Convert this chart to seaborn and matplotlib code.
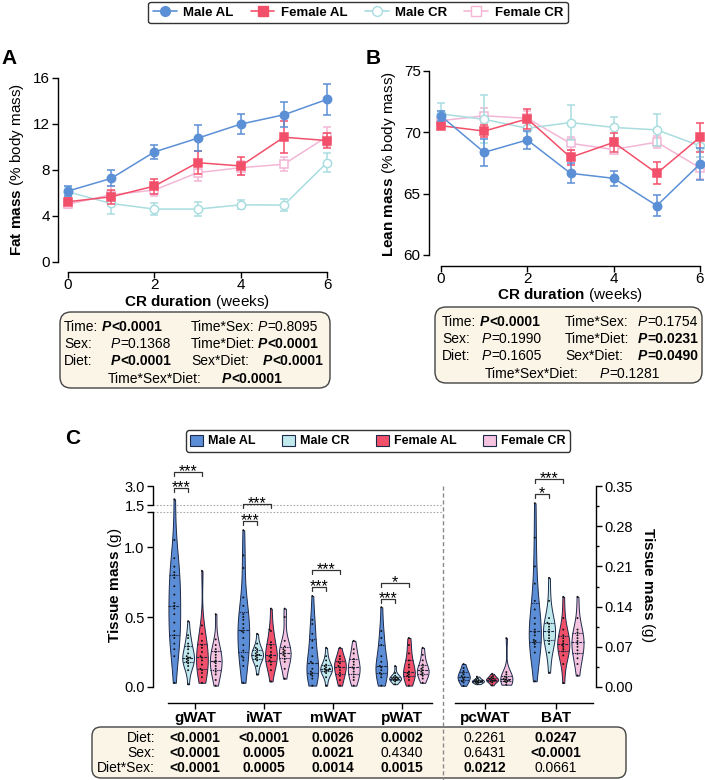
import numpy as np
import pandas as pd
import seaborn as sns
import matplotlib.pyplot as plt
import matplotlib.transforms as mtransforms
from matplotlib.patches import FancyBboxPatch, Patch
from matplotlib.lines import Line2D
from matplotlib.ticker import MultipleLocator, NullLocator

W, H = 705, 780

# ---------------- data: body composition during CR (mean, SEM) ----------------
weeks = [0, 1, 2, 3, 4, 5, 6]
line_groups = ['Male AL', 'Female AL', 'Male CR', 'Female CR']

fat_male_al = [6.17, 7.27, 9.57, 10.76, 11.99, 12.8, 14.14]
fat_male_al_sem = [0.45, 0.7, 0.6, 1.15, 0.85, 1.1, 1.35]
fat_female_al = [5.24, 5.67, 6.6, 8.64, 8.35, 10.85, 10.56]
fat_female_al_sem = [0.3, 0.6, 0.65, 1.0, 0.8, 1.4, 0.65]
fat_male_cr = [6.1, 5.09, 4.6, 4.6, 4.97, 4.95, 8.64]
fat_male_cr_sem = [0.4, 0.95, 0.5, 0.6, 0.4, 0.55, 0.85]
fat_female_cr = [5.03, 5.85, 6.25, 7.77, 8.2, 8.5, 10.9]
fat_female_cr_sem = [0.3, 0.8, 0.5, 0.7, 0.6, 0.6, 0.8]

lean_male_al = [71.33, 68.37, 69.38, 66.66, 66.25, 64.02, 67.42]
lean_male_al_sem = [0.4, 1.1, 0.75, 0.8, 0.6, 0.85, 1.3]
lean_female_al = [70.54, 70.1, 71.1, 67.96, 69.18, 66.66, 69.6]
lean_female_al_sem = [0.25, 0.5, 0.8, 0.6, 0.8, 0.9, 1.2]
lean_male_cr = [71.5, 71.06, 70.33, 70.8, 70.4, 70.2, 68.9]
lean_male_cr_sem = [0.9, 1.95, 0.8, 1.4, 0.85, 1.3, 0.9]
lean_female_cr = [70.95, 71.35, 71.14, 69.1, 68.6, 69.2, 67.1]
lean_female_cr_sem = [0.5, 0.6, 0.6, 0.5, 0.4, 0.5, 0.9]

stat_terms = ['Time:', 'Sex:', 'Diet:', 'Time*Sex:', 'Time*Diet:', 'Sex*Diet:', 'Time*Sex*Diet:']
fat_p = ['<0.0001', '=0.1368', '<0.0001', '=0.8095', '<0.0001', '<0.0001', '<0.0001']
lean_p = ['<0.0001', '=0.1990', '=0.1605', '=0.1754', '=0.0231', '=0.0490', '=0.1281']

# ---------------- data: tissue masses (g) ----------------
tissues_left = ['gWAT', 'iWAT', 'mWAT', 'pWAT']
tissues_right = ['pcWAT', 'BAT']
hue_order = ['Male AL', 'Male CR', 'Female AL', 'Female CR']

gwat = {
    'Male AL': [0.03, 0.22, 0.27, 0.31, 0.35, 0.37, 0.40, 0.46, 0.52, 0.56, 0.58, 0.60,
                0.66, 0.72, 0.78, 0.80, 0.82, 0.86, 0.92, 1.05, 1.95],
    'Male CR': [0.02, 0.12, 0.15, 0.17, 0.18, 0.19, 0.20, 0.21, 0.21, 0.22, 0.24, 0.27,
                0.29, 0.31, 0.35, 0.37, 0.47],
    'Female AL': [0.03, 0.07, 0.10, 0.12, 0.13, 0.16, 0.19, 0.21, 0.22, 0.25, 0.28, 0.30,
                  0.33, 0.38, 0.44, 0.83],
    'Female CR': [0.01, 0.05, 0.09, 0.11, 0.13, 0.15, 0.17, 0.18, 0.19, 0.21, 0.23, 0.25,
                  0.27, 0.30, 0.34, 0.52],
}
iwat = {
    'Male AL': [0.03, 0.15, 0.19, 0.21, 0.22, 0.26, 0.30, 0.35, 0.39, 0.40, 0.42, 0.45,
                0.48, 0.50, 0.52, 0.58, 0.64, 0.85, 0.94, 1.12],
    'Male CR': [0.09, 0.15, 0.19, 0.20, 0.21, 0.22, 0.23, 0.23, 0.24, 0.25, 0.27, 0.28,
                0.31, 0.38],
    'Female AL': [0.04, 0.12, 0.16, 0.18, 0.19, 0.21, 0.22, 0.23, 0.25, 0.28, 0.30, 0.32,
                  0.40, 0.41, 0.56],
    'Female CR': [0.06, 0.13, 0.18, 0.20, 0.22, 0.23, 0.24, 0.25, 0.26, 0.27, 0.29, 0.33,
                  0.50, 0.56],
}
mwat = {
    'Male AL': [0.01, 0.06, 0.08, 0.09, 0.10, 0.11, 0.13, 0.17, 0.18, 0.22, 0.28, 0.33,
                0.38, 0.45, 0.48, 0.65],
    'Male CR': [0.01, 0.07, 0.10, 0.11, 0.12, 0.12, 0.13, 0.13, 0.14, 0.15, 0.16, 0.19,
                0.22, 0.28],
    'Female AL': [0.01, 0.05, 0.08, 0.10, 0.12, 0.14, 0.15, 0.17, 0.18, 0.20, 0.22, 0.28],
    'Female CR': [0.01, 0.05, 0.07, 0.09, 0.11, 0.13, 0.14, 0.16, 0.18, 0.20, 0.24, 0.27,
                  0.33],
}
pwat = {
    'Male AL': [0.01, 0.07, 0.09, 0.10, 0.12, 0.14, 0.15, 0.18, 0.22, 0.30, 0.35, 0.40, 0.57],
    'Male CR': [0.02, 0.04, 0.05, 0.05, 0.06, 0.06, 0.06, 0.07, 0.07, 0.08, 0.10, 0.15],
    'Female AL': [0.01, 0.05, 0.07, 0.08, 0.09, 0.10, 0.11, 0.14, 0.16, 0.19, 0.24, 0.30,
                  0.35],
    'Female CR': [0.03, 0.06, 0.08, 0.09, 0.10, 0.11, 0.12, 0.13, 0.14, 0.16, 0.19, 0.23,
                  0.28],
}
pcwat = {
    'Male AL': [0.002, 0.008, 0.010, 0.013, 0.016, 0.017, 0.019, 0.022, 0.025, 0.028,
                0.033, 0.040],
    'Male CR': [0.005, 0.007, 0.008, 0.009, 0.010, 0.010, 0.011, 0.012, 0.013, 0.015, 0.018],
    'Female AL': [0.003, 0.008, 0.010, 0.011, 0.012, 0.013, 0.014, 0.015, 0.017, 0.019,
                  0.023],
    'Female CR': [0.004, 0.008, 0.010, 0.011, 0.012, 0.013, 0.014, 0.016, 0.018, 0.022,
                  0.026, 0.085],
}
bat = {
    'Male AL': [0.01, 0.06, 0.07, 0.075, 0.078, 0.08, 0.082, 0.09, 0.095, 0.10, 0.11, 0.12,
                0.135, 0.15, 0.18, 0.21, 0.26, 0.32],
    'Male CR': [0.025, 0.06, 0.075, 0.08, 0.085, 0.09, 0.095, 0.10, 0.105, 0.11, 0.112,
                0.12, 0.15, 0.19],
    'Female AL': [0.007, 0.04, 0.055, 0.062, 0.066, 0.07, 0.073, 0.076, 0.08, 0.085, 0.09,
                  0.10, 0.12, 0.157],
    'Female CR': [0.02, 0.04, 0.05, 0.058, 0.064, 0.07, 0.075, 0.08, 0.085, 0.09, 0.095,
                  0.10, 0.12, 0.157],
}

p_diet = ['<0.0001', '<0.0001', '0.0026', '0.0002', '0.2261', '0.0247']
p_sex = ['<0.0001', '0.0005', '0.0021', '0.4340', '0.6431', '<0.0001']
p_dietsex = ['<0.0001', '0.0005', '0.0014', '0.0015', '0.0212', '0.0661']

# ---------------- style ----------------
blue, red, cyan, pink = '#5b8fd6', '#f2506a', '#a9dde0', '#f3b6d6'
vio_colors = {'Male AL': '#5b8ed6', 'Male CR': '#bfe9ec', 'Female AL': '#f0506a',
              'Female CR': '#f4c3e0'}
edge = '#1e2a4a'
cream = '#fbf5e8'

sns.set_style('ticks')
plt.rcParams['font.family'] = ['Liberation Sans', 'DejaVu Sans']
plt.rcParams.update({
    'mathtext.fontset': 'custom',
    'mathtext.rm': 'Liberation Sans',
    'mathtext.bf': 'Liberation Sans:bold',
    'mathtext.it': 'Liberation Sans:italic',
    'axes.edgecolor': 'black', 'axes.linewidth': 1.0,
    'xtick.color': 'black', 'ytick.color': 'black',
    'text.color': 'black', 'axes.labelcolor': 'black',
    'xtick.major.size': 4, 'ytick.major.size': 4,
    'xtick.major.width': 1.0, 'ytick.major.width': 1.0,
    'xtick.major.pad': 2, 'ytick.major.pad': 2,
})

fig = plt.figure(figsize=(W / 100, H / 100), dpi=100)


def box(x0, y0, x1, y1):
    # figure-fraction rect from pixel corners (top-left origin)
    return [x0 / W, 1 - y1 / H, (x1 - x0) / W, (y1 - y0) / H]


# overlay axes in pixel units for texts / boxes
ov = fig.add_axes([0, 0, 1, 1], zorder=5)
ov.set_xlim(0, W)
ov.set_ylim(H, 0)
ov.axis('off')


def rich(x, y, parts, size=10):
    t = ov.text(x, y, parts[0][0], fontsize=size, fontweight=parts[0][1],
                style=parts[0][2], va='baseline', ha='left', zorder=4)
    for s, w, st in parts[1:]:
        t = ov.annotate(s, xy=(1, 0), xycoords=t, va='bottom', ha='left',
                        fontsize=size, fontweight=w, style=st, zorder=4)


def pval_parts(v):
    sig = v.startswith('<') or float(v[1:]) < 0.05
    w = 'bold' if sig else 'normal'
    return [('P', w, 'italic'), (v, w, 'normal')]


# ---------------- panels A and B ----------------
specs = {
    'Male AL': dict(color=blue, marker='o', mfc=blue, z=5),
    'Female AL': dict(color=red, marker='s', mfc=red, z=4),
    'Male CR': dict(color=cyan, marker='o', mfc='white', z=3),
    'Female CR': dict(color=pink, marker='s', mfc='white', z=2),
}


def draw_time(ax, means, sems):
    for g in line_groups:
        sp = specs[g]
        ax.errorbar(weeks, means[g], yerr=sems[g], fmt='none', ecolor=sp['color'],
                    elinewidth=1.1, capsize=3.2, capthick=1.1, zorder=sp['z'] - 0.5,
                    clip_on=False)
        sns.lineplot(x=weeks, y=means[g], ax=ax, color=sp['color'], lw=1.1,
                     marker=sp['marker'], markersize=6, markerfacecolor=sp['mfc'],
                     markeredgecolor=sp['color'], markeredgewidth=1.1,
                     zorder=sp['z'], clip_on=False, errorbar=None, legend=False)


axA = fig.add_axes(box(58, 78, 327, 262))
draw_time(axA,
          {'Male AL': fat_male_al, 'Female AL': fat_female_al,
           'Male CR': fat_male_cr, 'Female CR': fat_female_cr},
          {'Male AL': fat_male_al_sem, 'Female AL': fat_female_al_sem,
           'Male CR': fat_male_cr_sem, 'Female CR': fat_female_cr_sem})
axA.set_xlim(-0.232, 6)
axA.set_ylim(0, 16)
axA.set_xticks([0, 2, 4, 6])
axA.set_yticks([0, 4, 8, 12, 16])

axB = fig.add_axes(box(429, 71, 700, 255))
draw_time(axB,
          {'Male AL': lean_male_al, 'Female AL': lean_female_al,
           'Male CR': lean_male_cr, 'Female CR': lean_female_cr},
          {'Male AL': lean_male_al_sem, 'Female AL': lean_female_al_sem,
           'Male CR': lean_male_cr_sem, 'Female CR': lean_female_cr_sem})
axB.set_xlim(-0.278, 6)
axB.set_ylim(60, 75)
axB.set_xticks([0, 2, 4, 6])
axB.set_yticks([60, 65, 70, 75])

for ax, off, ylo, yhi in [(axA, 7.2, 0, 16), (axB, 7.9, 60, 75)]:
    sns.despine(ax=ax)
    ax.spines['bottom'].set_position(('outward', off))
    ax.spines['bottom'].set_bounds(0, 6)
    ax.spines['left'].set_bounds(ylo, yhi)
    ax.tick_params(labelsize=11)
    ax.tick_params(axis='x', pad=0.5)
    ax.set_xlabel('')
    ax.set_ylabel('')

ov.text(17, 169, r'$\mathbf{Fat\ mass}$ (% body mass)', rotation=90, ha='center',
        va='center', fontsize=11)
ov.text(389, 164, r'$\mathbf{Lean\ mass}$ (% body mass)', rotation=90, ha='center',
        va='center', fontsize=11)
ov.text(197, 302, r'$\mathbf{CR\ duration}$ (weeks)', ha='center', va='center',
        fontsize=11)
ov.text(570, 295, r'$\mathbf{CR\ duration}$ (weeks)', ha='center', va='center',
        fontsize=11)

for lab, x, y in [('A', 9, 59), ('B', 373, 59), ('C', 73, 438)]:
    ov.text(x, y, lab, fontsize=15, fontweight='bold', ha='center', va='center')

# stats boxes
ov.add_patch(FancyBboxPatch((60, 312), 270, 76, boxstyle='round,pad=0,rounding_size=11',
                            fc=cream, ec='#444444', lw=1.0, zorder=1))
ov.add_patch(FancyBboxPatch((435, 307), 267, 76, boxstyle='round,pad=0,rounding_size=11',
                            fc=cream, ec='#444444', lw=1.0, zorder=1))

layout_A = [(64, 102, 331), (64, 111, 348), (64, 111, 365), (191, 258, 331),
            (191, 258, 348), (191, 263, 365), (108, 222, 383)]
layout_B = [(442, 480, 326), (442, 482, 343), (442, 482, 360), (565, 638, 326),
            (565, 638, 343), (565, 638, 360), (485, 600, 378)]
for pvals, lay in [(fat_p, layout_A), (lean_p, layout_B)]:
    for term, v, (xl, xv, yb) in zip(stat_terms, pvals, lay):
        ov.text(xl, yb, term, fontsize=10, va='baseline', ha='left', zorder=4)
        rich(xv, yb, pval_parts(v))

# top legend
top_handles = [Line2D([], [], color=specs[g]['color'], marker=specs[g]['marker'],
                      markerfacecolor=specs[g]['mfc'], markeredgecolor=specs[g]['color'],
                      markersize=7, lw=1.2) for g in line_groups]
leg1 = fig.legend(top_handles, line_groups, loc='center', ncol=4,
                  bbox_to_anchor=(358 / W, 1 - 12.5 / H), frameon=True, fancybox=True,
                  prop=dict(weight='bold', size=9.5), handlelength=1.8,
                  handletextpad=0.5, columnspacing=1.3, borderpad=0.35)
leg1.get_frame().set_edgecolor('black')
leg1.get_frame().set_linewidth(1.0)

# ---------------- panel C ----------------
def to_long(tissue_data):
    rows = []
    for tissue, d in tissue_data:
        for g in hue_order:
            for v in d[g]:
                rows.append((tissue, g, v))
    return pd.DataFrame(rows, columns=['tissue', 'group', 'mass'])


dfL = to_long([('gWAT', gwat), ('iWAT', iwat), ('mWAT', mwat), ('pWAT', pwat)])
dfR = to_long([('pcWAT', pcwat), ('BAT', bat)])


def fwd(y):
    y = np.asarray(y, float)
    return np.where(y <= 1.25, y,
                    np.where(y <= 1.5, 1.25 + (y - 1.25) * 0.2, 1.3 + (y - 1.5) * 0.0907))


def inv(z):
    z = np.asarray(z, float)
    return np.where(z <= 1.25, z,
                    np.where(z <= 1.3, 1.25 + (z - 1.25) / 0.2, 1.5 + (z - 1.3) / 0.0907))


axL = fig.add_axes(box(153, 486, 443, 687))
axL.set_yscale('function', functions=(fwd, inv))
axL.set_ylim(0, 3.0)
axR = fig.add_axes(box(443, 486, 596, 687))
axR.set_ylim(0, 0.35)

for ax, df, order in [(axL, dfL, tissues_left), (axR, dfR, tissues_right)]:
    sns.violinplot(data=df, x='tissue', y='mass', hue='group', order=order,
                   hue_order=hue_order, palette=vio_colors, saturation=1, cut=0,
                   inner='quart', density_norm='width', width=0.8, gap=0.15,
                   linewidth=0.7, linecolor=edge,
                   inner_kws=dict(color=edge, linewidth=0.8), legend=False, ax=ax)
    sns.swarmplot(data=df, x='tissue', y='mass', hue='group', order=order,
                  hue_order=hue_order, palette={g: '#111111' for g in hue_order},
                  dodge=True, size=1.4, legend=False, ax=ax)
    ax.set_xlabel('')
    ax.set_ylabel('')
    ax.spines['top'].set_visible(False)
    ax.spines['bottom'].set_position(('outward', 11.5))
    ax.tick_params(axis='x', labelsize=11)
    for lab in ax.get_xticklabels():
        lab.set_fontweight('bold')

axL.set_xlim(-0.609, 3.594)
axL.set_ylim(0, 3.0)
axL.spines['right'].set_visible(False)
axL.spines['bottom'].set_bounds(-0.39, 3.43)
axL.spines['left'].set_bounds(0, 1.25)
axL.set_yticks([0, 0.5, 1.0, 1.25, 1.5, 3.0])
axL.set_yticklabels(['0.0', '0.5', '1.0', '', '1.5', '3.0'])
axL.yaxis.set_minor_locator(NullLocator())
axL.tick_params(axis='y', labelsize=10.5)
axL.plot([0, 0], [1.5, 3.0], color='black', lw=1.0, clip_on=False,
         transform=mtransforms.blended_transform_factory(axL.transAxes, axL.transData))
for yb in [1.25, 1.5]:
    axL.axhline(yb, color='#aaaaaa', lw=0.8, ls=(0, (1.5, 1.5)), zorder=0)

axR.set_xlim(-0.59, 1.56)
axR.set_ylim(0, 0.35)
axR.spines['left'].set_visible(False)
axR.spines['bottom'].set_bounds(-0.42, 1.52)
axR.yaxis.tick_right()
axR.set_yticks([0, 0.07, 0.14, 0.21, 0.28, 0.35])
axR.set_yticklabels(['0.00', '0.07', '0.14', '0.21', '0.28', '0.35'])
axR.yaxis.set_minor_locator(MultipleLocator(0.035))
axR.tick_params(axis='y', which='minor', length=2.5, width=1.0)
axR.tick_params(axis='y', labelsize=10.5)

ov.text(115, 585, r'$\mathbf{Tissue\ mass}$ (g)', rotation=90, ha='center',
        va='center', fontsize=11)
ov.text(648, 585, r'$\mathbf{Tissue\ mass}$ (g)', rotation=270, ha='center',
        va='center', fontsize=11)

# separator
ov.plot([443, 443], [486, 780], color='#8a8a8a', lw=1.0, ls=(0, (3, 2)), zorder=2)

# significance brackets
hue_off = dict(zip(hue_order, [-0.3, -0.1, 0.1, 0.3]))


def bracket(ax, idx, g0, g1, y_line, label):
    tr = mtransforms.blended_transform_factory(ax.transData, ov.transData)
    x0, x1 = idx + hue_off[g0], idx + hue_off[g1]
    ov.plot([x0, x0, x1, x1], [y_line + 4, y_line, y_line, y_line + 4], color='#333333',
            lw=0.9, transform=tr, clip_on=False, zorder=3)
    ov.text((x0 + x1) / 2, y_line + 4, label, transform=tr, ha='center', va='baseline',
            fontsize=11.5, zorder=3)


bracket(axL, 0, 'Male AL', 'Female AL', 472, '***')
bracket(axL, 0, 'Male AL', 'Male CR', 488, '***')
bracket(axL, 1, 'Male AL', 'Female AL', 504, '***')
bracket(axL, 1, 'Male AL', 'Male CR', 521, '***')
bracket(axL, 2, 'Male AL', 'Female AL', 570, '***')
bracket(axL, 2, 'Male AL', 'Male CR', 587, '***')
bracket(axL, 3, 'Male AL', 'Female AL', 583, '*')
bracket(axL, 3, 'Male AL', 'Male CR', 599, '***')
bracket(axR, 1, 'Male AL', 'Female AL', 479, '***')
bracket(axR, 1, 'Male AL', 'Male CR', 494, '*')

# C legend
c_handles = [Patch(facecolor=vio_colors[g], edgecolor=edge, lw=0.8) for g in hue_order]
leg2 = fig.legend(c_handles, hue_order, loc='center', ncol=4,
                  bbox_to_anchor=(378 / W, 1 - 441 / H), frameon=True, fancybox=True,
                  prop=dict(weight='bold', size=9), handlelength=1.0, handleheight=1.0,
                  handletextpad=0.45, columnspacing=2.1, borderpad=0.35)
leg2.get_frame().set_edgecolor('black')
leg2.get_frame().set_linewidth(1.0)

# bottom stats table
ov.add_patch(FancyBboxPatch((92, 727), 534, 51, boxstyle='round,pad=0,rounding_size=9',
                            fc=cream, ec='#444444', lw=1.0, zorder=1))
for r, (name, vals) in enumerate(zip(['Diet:', 'Sex:', 'Diet*Sex:'],
                                     [p_diet, p_sex, p_dietsex])):
    yb = 742 + 15 * r
    ov.text(155, yb, name, ha='right', va='baseline', fontsize=10, zorder=4)
    for i, v in enumerate(vals):
        ax_, idx = (axL, i) if i < 4 else (axR, i - 4)
        tr = mtransforms.blended_transform_factory(ax_.transData, ov.transData)
        sig = v.startswith('<') or float(v) < 0.05
        ov.text(idx, yb, v, transform=tr, ha='center', va='baseline', fontsize=10,
                fontweight='bold' if sig else 'normal', zorder=4)

fig.savefig('out.png', dpi=100)
